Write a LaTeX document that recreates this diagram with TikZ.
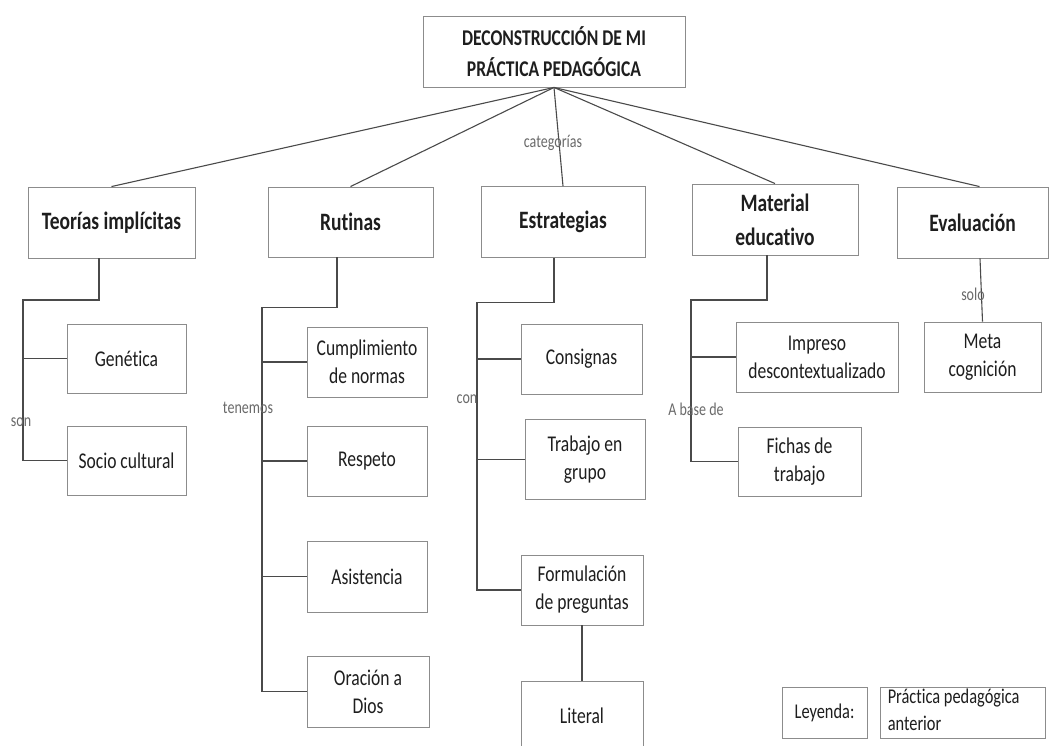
\documentclass[tikz,border=0pt]{standalone}
\usepackage{fontspec}
\setmainfont{Carlito}[FakeStretch=0.78,Ligatures=NoCommon]
\usetikzlibrary{calc}
\definecolor{boxgray}{HTML}{8C8C8C}
\definecolor{linegray}{HTML}{4A4A4A}
\definecolor{txt}{HTML}{1E1E1E}
\definecolor{lbltxt}{HTML}{6A6A6A}
\begin{document}
\begin{tikzpicture}[x=1pt,y=-1pt,
  box/.style={draw=boxgray, line width=0.9pt, inner sep=0pt, align=center, text=txt,
    font=\fontsize{22.5}{28}\selectfont},
  hdr/.style={box, font=\fontsize{25}{34}\selectfont\bfseries},
  conn/.style={draw=linegray, line width=1.1pt},
  lbl/.style={inner sep=0pt, text=lbltxt, font=\fontsize{18}{20}\selectfont}]
\useasboundingbox[fill=white] (0,0) rectangle (1049,745);

% title
\node[box, minimum width=262pt, minimum height=71pt, font=\fontsize{22.5}{31}\selectfont\bfseries]
  (title) at (554,51.5) {DECONSTRUCCIÓN DE MI\\PRÁCTICA PEDAGÓGICA};

% headers
\node[hdr, minimum width=167pt, minimum height=71pt] (teo) at (111.5,222.5) {Teorías implícitas};
\node[hdr, minimum width=165pt, minimum height=70pt] (rut) at (350.5,222) {Rutinas};
\node[hdr, minimum width=164pt, minimum height=71pt] (est) at (563,222) {Estrategias};
\node[hdr, minimum width=166pt, minimum height=71pt] (mat) at (775,219.5) {Material\\educativo};
\node[hdr, minimum width=151pt, minimum height=71pt] (eva) at (972.5,222.5) {Evaluación};

% Teorías children
\node[box, minimum width=119pt, minimum height=69pt] (gen) at (126.5,358.5) {Genética};
\node[box, minimum width=119pt, minimum height=69pt] (soc) at (126.5,460.5) {Socio cultural};

% Rutinas children
\node[box, minimum width=120pt, minimum height=70pt] (cum) at (367,362) {Cumplimiento\\de normas};
\node[box, minimum width=120pt, minimum height=70pt] (res) at (367,461) {Respeto};
\node[box, minimum width=120pt, minimum height=71pt] (asi) at (367,576.5) {Asistencia};
\node[box, minimum width=122pt, minimum height=71pt] (ora) at (368,691.5) {Oración a\\Dios};

% Estrategias children
\node[box, minimum width=121pt, minimum height=70pt] (cons) at (581.5,359) {Consignas};
\node[box, minimum width=120pt, minimum height=80pt] (tra) at (585,459.5) {Trabajo en\\grupo};
\node[box, minimum width=122pt, minimum height=70pt] (for) at (582,590) {Formulación\\de preguntas};
\node[box, minimum width=122pt, minimum height=70pt] (lit) at (582,716) {Literal};

% Material children
\node[box, minimum width=162pt, minimum height=70pt] (imp) at (817,357) {Impreso\\descontextualizado};
\node[box, minimum width=123pt, minimum height=69pt] (fic) at (799.5,461.5) {Fichas de\\trabajo};

% Evaluación child
\node[box, minimum width=117pt, minimum height=70pt] (meta) at (982.5,357) {Meta\\cognición};

% legend
\node[box, minimum width=85pt, minimum height=51pt, font=\fontsize{21}{27}\selectfont] (ley) at (824.5,712.5) {Leyenda:};
\node[draw=boxgray, line width=0.9pt, inner sep=0pt, minimum width=165pt, minimum height=51pt] (pra) at (962.5,712.5) {};
\node[inner sep=0pt, anchor=north west, align=left, text=txt, font=\fontsize{21}{27}\selectfont] (pratxt) at ([xshift=8pt,yshift=-2pt]pra.north west) {Práctica pedagógica\\anterior};

% fan connectors
\draw[conn] (title.south) -- (teo.north);
\draw[conn] (title.south) -- (rut.north);
\draw[conn] (title.south) -- (est.north);
\draw[conn] (title.south) -- (mat.north);
\draw[conn] (title.south) -- ([xshift=7pt]eva.north);

% Teorías tree
\coordinate (tk) at (23,300);
\draw[conn] ([xshift=-12.5pt]teo.south) |- (tk) -- (tk |- soc.west) -- (soc.west);
\draw[conn] (tk |- gen.west) -- (gen.west);

% Rutinas tree
\coordinate (rk) at (262,307.5);
\draw[conn] ([xshift=-13.5pt]rut.south) |- (rk) -- (rk |- ora.west) -- (ora.west);
\draw[conn] (rk |- cum.west) -- (cum.west);
\draw[conn] (rk |- res.west) -- (res.west);
\draw[conn] (rk |- asi.west) -- (asi.west);

% Estrategias tree
\coordinate (ek) at (477,302.7);
\draw[conn] ([xshift=-9pt]est.south) |- (ek) -- (ek |- for.west) -- (for.west);
\draw[conn] (ek |- cons.west) -- (cons.west);
\draw[conn] (ek |- tra.west) -- (tra.west);
\draw[conn] (for.south) -- (lit.north);

% Material tree
\coordinate (mk) at (691,300);
\draw[conn] ([xshift=-8pt]mat.south) |- (mk) -- (mk |- fic.west) -- (fic.west);
\draw[conn] (mk |- imp.west) -- (imp.west);

% Evaluación
\draw[conn] ([xshift=7.5pt]eva.south) -- (meta.north);

% labels
\node[lbl] (l1) at (553,143) {categorías};
\node[lbl] (l2) at (21,422) {son};
\node[lbl] (l3) at (248,408) {tenemos};
\node[lbl] (l4) at (467,399) {con};
\node[lbl] (l5) at (696,409) {A base de};
\node[lbl] (l6) at (973,294) {solo};
\end{tikzpicture}
\end{document}
